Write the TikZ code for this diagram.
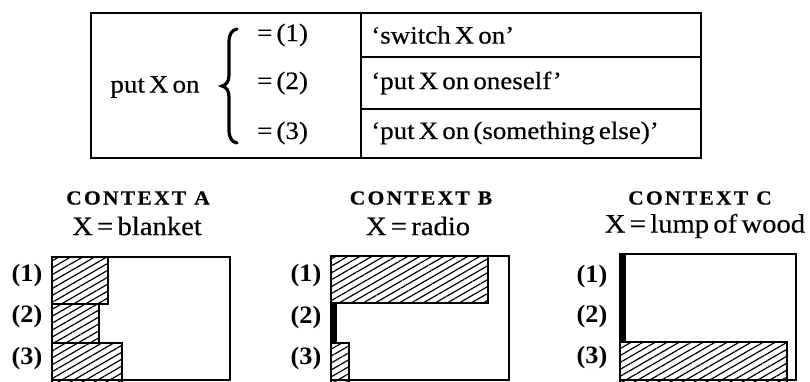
\documentclass[tikz,border=0pt]{standalone}
\usepackage{fontspec}
\setmainfont{Liberation Serif}[FakeStretch=1.08,FakeBold=0.4,WordSpace=0.6]
\newfontfamily\numfont{Liberation Serif Bold}[FakeStretch=1.05]
\newcommand{\ctxword}[1]{C\kern2.2pt O\kern2.2pt N\kern2.2pt T\kern2.2pt E\kern2.2pt X\kern2.2pt T\kern8pt #1}
\usetikzlibrary{patterns.meta}
\begin{document}
\begin{tikzpicture}[x=1pt,y=-1pt,
  txt/.style={inner sep=0pt,font=\fontsize{25}{28}\selectfont},
  big/.style={inner sep=0pt,font=\fontsize{26.5}{30}\selectfont},
  lbl/.style={inner sep=0pt,font=\numfont\fontsize{25}{28}\selectfont},
  ctx/.style={inner sep=0pt,font=\fontsize{20}{24}\selectfont\bfseries},
  frame/.style={line width=2.6pt},
  thin/.style={line width=1.8pt},
  bracestyle/.style={line width=3.2pt,line cap=round},
  bar/.style={line width=2.4pt,pattern={Lines[angle=30,distance=6pt,line width=1.2pt]}},
  strip/.style={fill=black}]
\clip (0,0) rectangle (810,381);
% ---------- table ----------
\draw[frame] (91,13) rectangle (701,158);
\draw[thin] (361,13) -- (361,158);
\draw[thin] (361,57) -- (701,57);
\draw[thin] (361,109) -- (701,109);
\node[txt] (put) at (155,87) {put X on};
\draw[bracestyle] (237,29) .. controls (232,30) and (229,34) .. (229,42) -- (229,75)
  .. controls (229,82) and (226,85) .. (222,86) .. controls (226,87) and (229,90) .. (229,97)
  -- (229,130) .. controls (229,138) and (232,142) .. (237,143);
\node[txt,anchor=west] (e1) at (257,35) {= (1)};
\node[txt,anchor=west] (e2) at (257,83) {= (2)};
\node[txt,anchor=west] (e3) at (257,133) {= (3)};
\node[txt,anchor=west] (m1) at (371,35) {‘switch X on’};
\node[txt,anchor=west] (m2) at (371,83) {‘put X on oneself’};
\node[txt,anchor=west] (m3) at (371,133) {‘put X on (something else)’};
% ---------- context A ----------
\node[ctx] (ca) at (138,198) {\ctxword{A}};
\node[big] (xa) at (137,226) {X = blanket};
\draw[bar] (52,257) rectangle (108,304);
\draw[bar] (52,304) rectangle (99,343);
\draw[bar] (52,343) rectangle (122,392);
\draw[frame] (52,257) rectangle (230,380);
\node[lbl] (a1) at (27,275) {(1)};
\node[lbl] (a2) at (27,316) {(2)};
\node[lbl] (a3) at (27,358) {(3)};
% ---------- context B ----------
\node[ctx] (cb) at (421,198) {\ctxword{B}};
\node[big] (xb) at (418,226) {X = radio};
\draw[bar] (331,256) rectangle (488,303);
\fill[strip] (331,303) rectangle (337,343);
\draw[bar] (331,343) rectangle (349,392);
\draw[frame] (331,256) rectangle (509,380);
\node[lbl] (b1) at (306,275) {(1)};
\node[lbl] (b2) at (306,317) {(2)};
\node[lbl] (b3) at (306,358) {(3)};
% ---------- context C ----------
\node[ctx] (cc) at (700,198) {\ctxword{C}};
\node[big] (xc) at (705,226) {X = lump of wood};
\fill[strip] (620,254) rectangle (626,342);
\draw[bar] (620,342) rectangle (787,392);
\draw[frame] (620,254) rectangle (796,380);
\node[lbl] (c1) at (592,276) {(1)};
\node[lbl] (c2) at (592,316) {(2)};
\node[lbl] (c3) at (592,357) {(3)};
\end{tikzpicture}
\end{document}
